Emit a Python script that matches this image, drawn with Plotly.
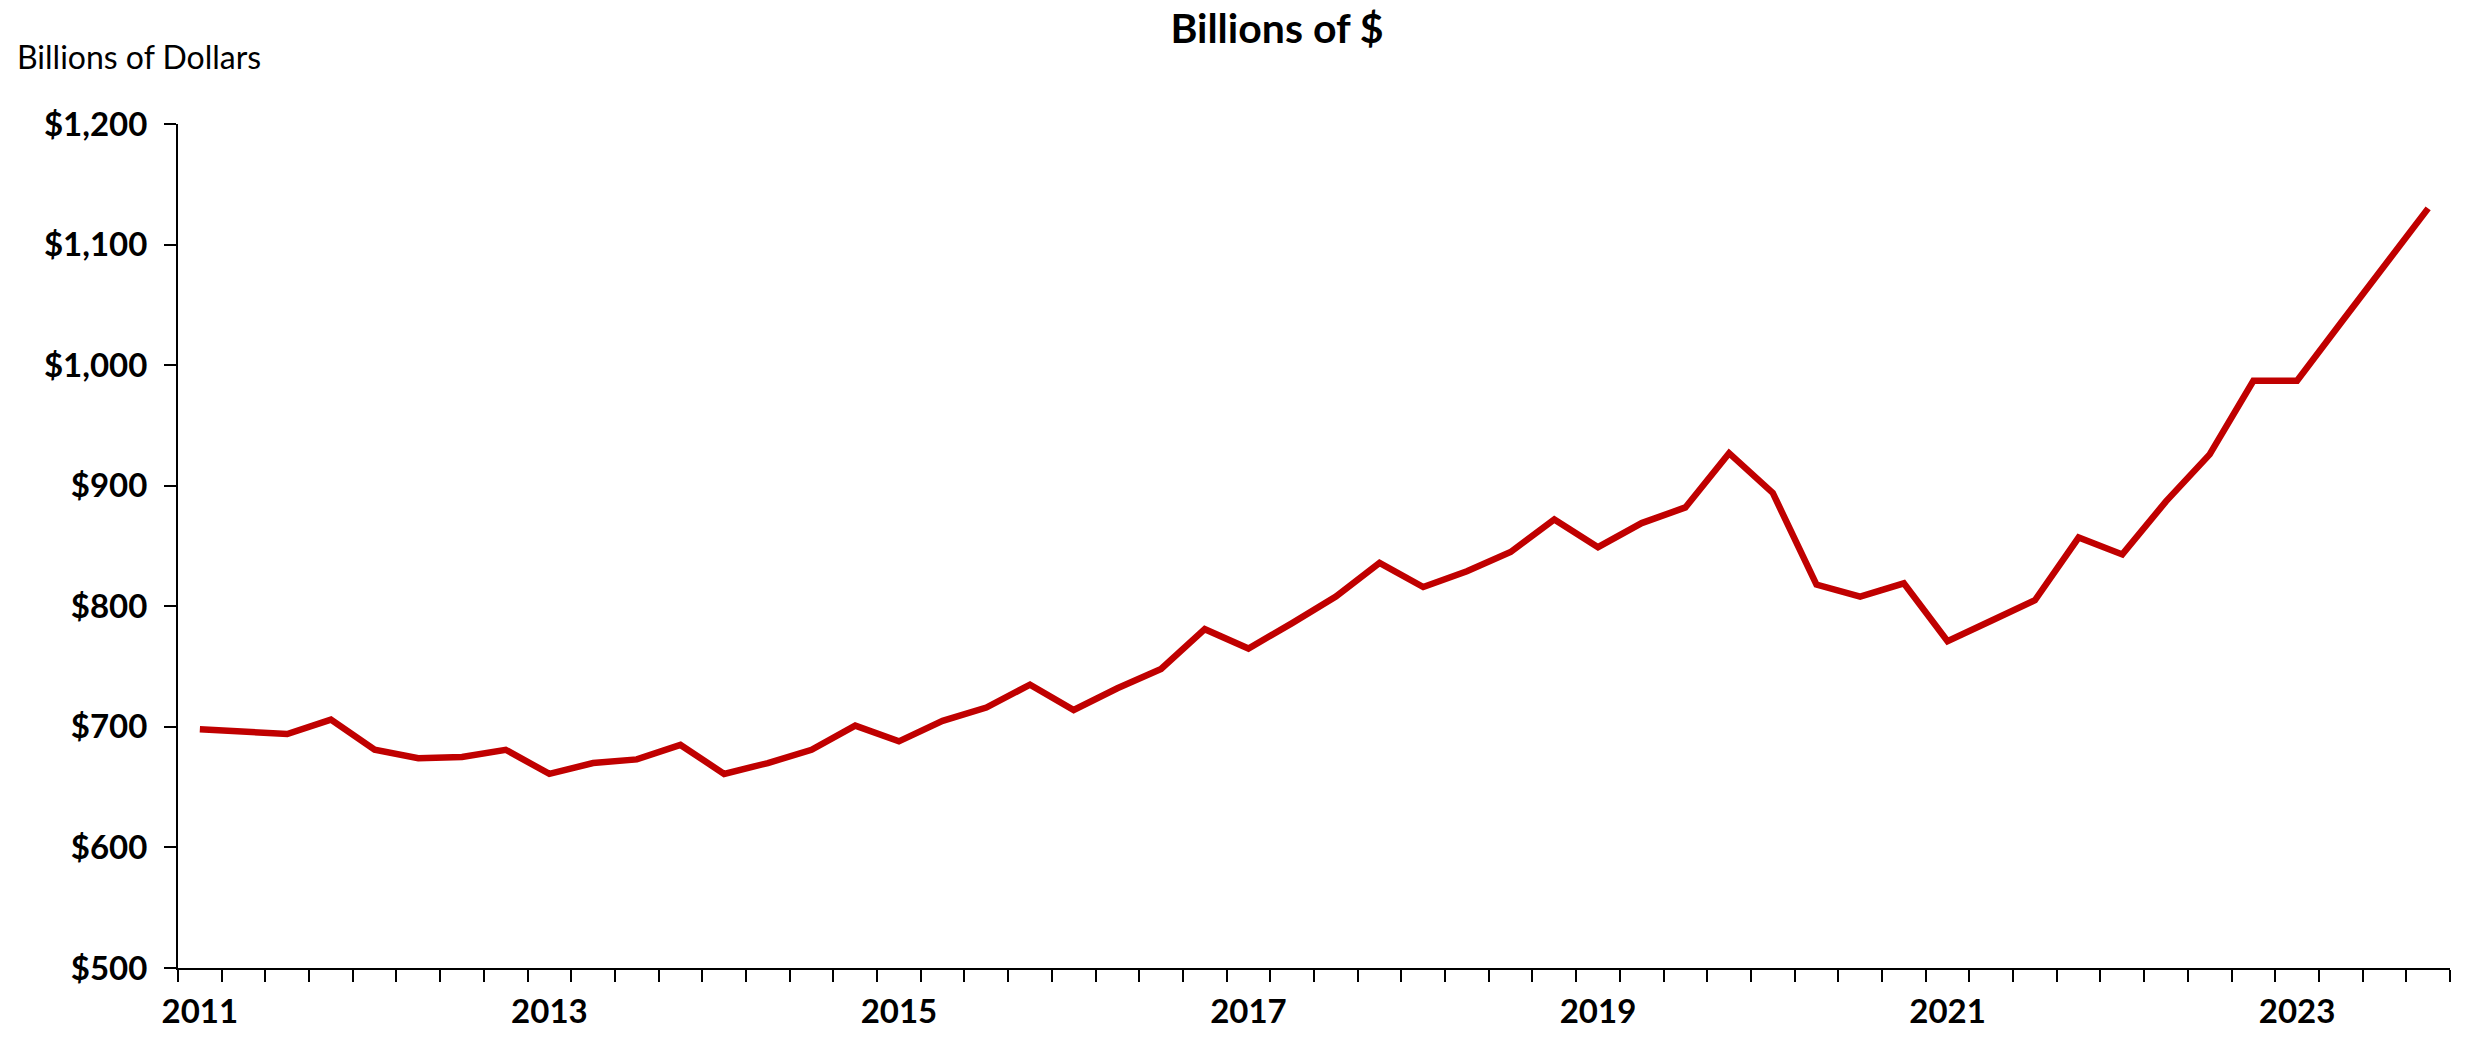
import plotly.graph_objects as go

# Quarterly series, 2011 Q1 through 2023 Q4 (billions of dollars)
years = list(range(2011, 2024))
quarters = [f"{y} Q{q}" for y in years for q in range(1, 5)]
values = [
    698, 696, 694, 706, 681, 674, 675, 681,
    661, 670, 673, 685, 661, 670, 681, 701,
    688, 705, 716, 735, 714, 732, 748, 781,
    765, 786, 808, 836, 816, 829, 845, 872,
    849, 869, 882, 927, 894, 818, 808, 819,
    771, 788, 805, 857, 843, 887, 926, 987,
    987, 1035, 1082, 1130,
]
year_labels = ["2011", "2013", "2015", "2017", "2019", "2021", "2023"]
label_pos = [quarters.index(f"{y} Q1") for y in year_labels]

W, H = 2471, 1038
L, R, T, B = 178, 21, 124, 70
plot_w = W - L - R
plot_h = H - T - B

fig = go.Figure(
    go.Scatter(
        x=list(range(len(values))),
        y=values,
        customdata=quarters,
        mode="lines",
        line=dict(color="#C00000", width=6.5),
        hovertemplate="%{customdata}: $%{y:,}<extra></extra>",
    )
)

n = len(values)
fig.update_layout(
    width=W,
    height=H,
    margin=dict(l=L, r=R, t=T, b=B, autoexpand=False),
    paper_bgcolor="white",
    plot_bgcolor="white",
    showlegend=False,
    font=dict(family="Lato", color="black"),
    title=dict(
        text="Billions of $",
        x=1277 / W,
        y=1 - 29 / H,
        xanchor="center",
        yanchor="middle",
        xref="container",
        yref="container",
        font=dict(family="Lato", size=41, weight="bold", color="black"),
    ),
    xaxis=dict(
        range=[-0.5, n - 0.5],
        tickmode="array",
        tickvals=label_pos,
        ticktext=year_labels,
        ticks="outside",
        ticklen=13,
        tickcolor="rgba(0,0,0,0)",
        tickfont=dict(family="Lato", size=33, weight="bold", color="black"),
        showline=True,
        linecolor="black",
        linewidth=2,
        showgrid=False,
        zeroline=False,
        minor=dict(
            tickmode="array",
            tickvals=[i - 0.5 for i in range(n + 1)],
            ticks="outside",
            ticklen=12,
            tickwidth=2,
            tickcolor="black",
            showgrid=False,
        ),
    ),
    yaxis=dict(
        range=[500, 1200],
        tickmode="linear",
        tick0=500,
        dtick=100,
        tickprefix="$",
        tickformat=",",
        ticks="outside",
        ticklen=12,
        tickwidth=2,
        tickcolor="black",
        ticklabelstandoff=10,
        tickfont=dict(family="Lato", size=33, weight="bold", color="black"),
        showline=True,
        linecolor="black",
        linewidth=2,
        showgrid=False,
        zeroline=False,
    ),
    annotations=[
        dict(
            text="Billions of Dollars",
            xref="paper",
            yref="paper",
            x=(15 - L) / plot_w,
            y=(H - B - 57) / plot_h,
            xanchor="left",
            yanchor="middle",
            showarrow=False,
            font=dict(family="Lato", size=32, color="black"),
        )
    ],
)

fig.write_html("out.html")
